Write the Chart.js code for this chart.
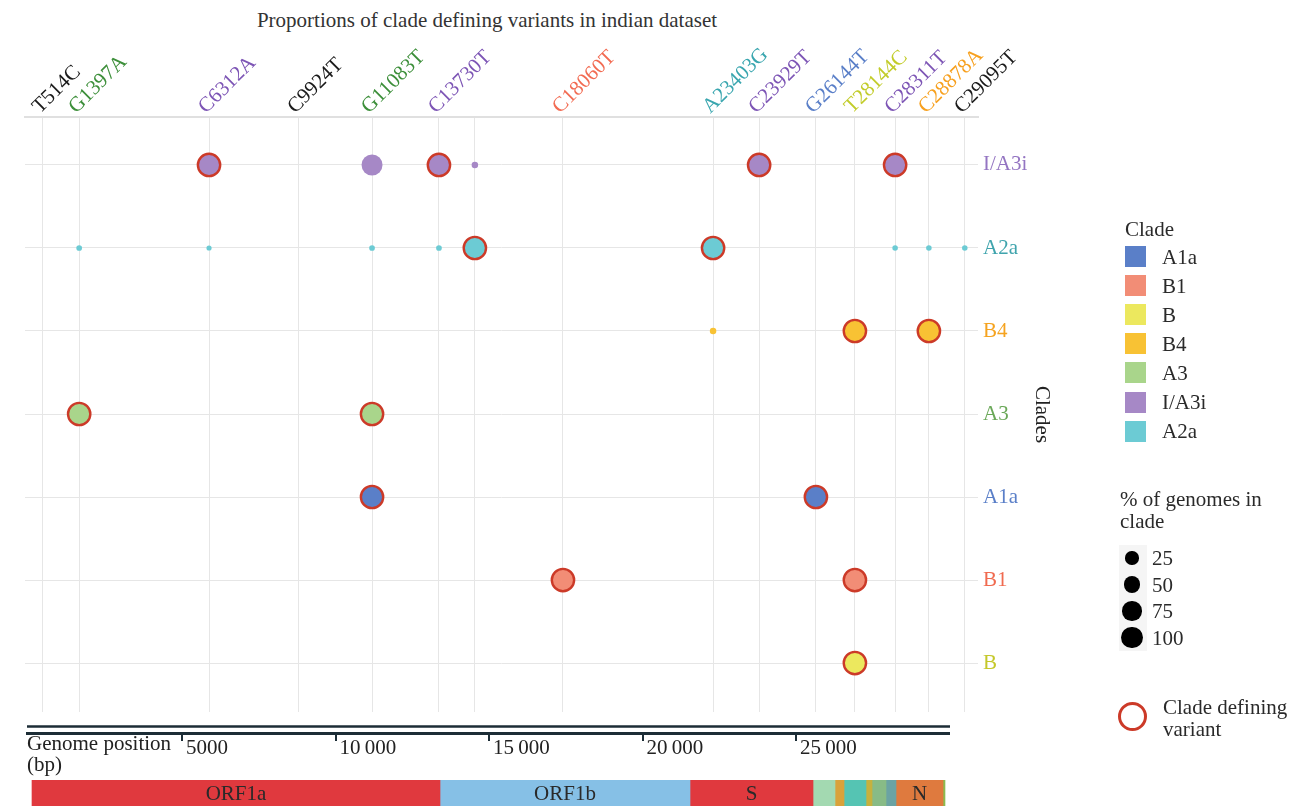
<!DOCTYPE html>
<html>
<head>
<meta charset="utf-8">
<script src="https://cdn.jsdelivr.net/npm/chart.js@4.4.1/dist/chart.umd.min.js"></script>
<style>
  html, body { margin: 0; padding: 0; background: #fff; width: 1301px; height: 807px; overflow: hidden;
    font-family: "Liberation Serif", "DejaVu Serif", serif; color: #2a2a2a; }
  .abs { position: absolute; }
  #title { left: 0; top: 8px; width: 974px; text-align: center; font-size: 21px; line-height: 24px; color: #333; }
  .lg-text { position: absolute; font-size: 21px; line-height: 24px; white-space: nowrap; color: #2a2a2a; }
  .swatch { position: absolute; width: 21px; height: 21px; }
  .dot { position: absolute; border-radius: 50%; background: #000; }
</style>
</head>
<body>
<div id="title" class="abs">Proportions of clade defining variants in indian dataset</div>
<div class="abs" style="left:0;top:0;width:1065px;height:712px"><canvas id="dots"></canvas></div>
<div class="abs" style="left:0;top:700px;width:950px;height:80px"><canvas id="axis"></canvas></div>
<div class="abs" style="left:0;top:780px;width:950px;height:26px"><canvas id="genes"></canvas></div>
<div id="legend" class="abs" style="left:0;top:0;width:1301px;height:807px;pointer-events:none"></div>

<script>
// ---------------- DATA ----------------
const variants = ['T514C','G1397A','C6312A','C9924T','G11083T','C13730T','C14408T','C18060T',
                  'A23403G','C23929T','G26144T','T28144C','C28311T','C28878A','C29095T'];
// column position of each variant on the panel's x-axis (genome-axis units)
const variantAxisPos = [470, 1650, 5880, 8780, 11190, 13370, 14540, 17410,
                        22300, 23800, 25650, 26920, 28230, 29330, 30500];
const unlabeledVariants = ['C14408T'];

const clades = ['I/A3i','A2a','B4','A3','A1a','B1','B'];

// % of genomes in clade carrying each variant (null = not shown)
const pctIA3i = [null, null, 99, null, 93, 99, 1, null, null, 99, null, null, 99, null, null];
const pctA2a  = [null, 0.3, 0.05, null, 0.3, 0.3, 99, null, 99, null, null, null, 0.2, 0.2, 0.2];
const pctB4   = [null, null, null, null, null, null, null, null, 1, null, null, 99, null, 99, null];
const pctA3   = [null, 99, null, null, 99, null, null, null, null, null, null, null, null, null, null];
const pctA1a  = [null, null, null, null, 99, null, null, null, null, null, 99, null, null, null, null];
const pctB1   = [null, null, null, null, null, null, null, 99, null, null, null, 99, null, null, null];
const pctB    = [null, null, null, null, null, null, null, null, null, null, null, 99, null, null, null];

const definingIA3i = ['C6312A','C13730T','C23929T','C28311T'];
const definingA2a  = ['C14408T','A23403G'];
const definingB4   = ['T28144C','C28878A'];
const definingA3   = ['G1397A','G11083T'];
const definingA1a  = ['G11083T','G26144T'];
const definingB1   = ['C18060T','T28144C'];
const definingB    = ['T28144C'];

const cladePct = [pctIA3i, pctA2a, pctB4, pctA3, pctA1a, pctB1, pctB];
const cladeDefining = [definingIA3i, definingA2a, definingB4, definingA3, definingA1a, definingB1, definingB];

const legendCladeOrder = ['A1a','B1','B','B4','A3','I/A3i','A2a'];
const sizeLegendValues = [25, 50, 75, 100];

const genomeTickValues = [5000, 10000, 15000, 20000, 25000];
const genomeTickLabels = ['5000', '10\u2009000', '15\u2009000', '20\u2009000', '25\u2009000'];

const genes      = ['ORF1a','ORF1b','S','ORF3a','E','M','ORF6','ORF7a','ORF8','N','ORF10'];
const geneStarts = [114, 13404, 21547, 25554, 26270, 26564, 27280, 27476, 27932, 28257, 29788];
const geneEnds   = [13404, 21547, 25554, 26270, 26564, 27280, 27476, 27932, 28257, 29788, 29853];
const labeledGenes = ['ORF1a','ORF1b','S','N'];

// ---------------- STYLES ----------------
const FONT = '"Liberation Serif", "DejaVu Serif", serif';
const cladeColors = { 'A1a':'#5a7fc8', 'B1':'#f28d76', 'B':'#ece85e', 'B4':'#f8c234',
                      'A3':'#a9d58b', 'I/A3i':'#a688c6', 'A2a':'#6ccbd4' };
const cladeLabelColors = ['#9475c2', '#3fa4ad', '#f5a31f', '#6aa858', '#5a7fc8', '#f06a4f', '#c5c82a'];
const variantLabelColors = ['#1a1a1a','#3d8f3a','#7d55b5','#1a1a1a','#3d8f3a','#7d55b5','#7d55b5','#f26b52',
                            '#3aa6af','#7d55b5','#5a7fc8','#c2cc2a','#7d55b5','#f7a01e','#1a1a1a'];
const geneColors = ['#e0393e','#86c0e6','#e0393e','#a3d9b1','#d9a23a','#55c4b3','#c6b13e',
                    '#88bb86','#6ba3a3','#df7a3e','#8bbb4f'];
const RING = '#cc3a28';
const sizeToRadius = p => 2.4 + 0.84 * Math.sqrt(p);

// ---------------- DOT PANEL ----------------
const dotDatasets = clades.map((c, ci) => ({
  label: c,
  data: variants.map((v, vi) => cladePct[ci][vi] == null ? null :
        { x: variantAxisPos[vi], y: ci, p: cladePct[ci][vi], def: cladeDefining[ci].includes(v) })
        .filter(d => d !== null),
  pointBackgroundColor: cladeColors[c],
  pointBorderColor: RING,
  pointRadius: ctx => ctx.raw ? sizeToRadius(ctx.raw.p) + (ctx.raw.def ? 0.4 : 0) : 0,
  pointBorderWidth: ctx => (ctx.raw && ctx.raw.def) ? 2.4 : 0,
  showLine: false
}));

new Chart(document.getElementById('dots'), {
  type: 'scatter',
  data: { datasets: dotDatasets },
  options: {
    responsive: true, maintainAspectRatio: false, animation: false, devicePixelRatio: 1, events: [],
    layout: { autoPadding: false, padding: { left: 25, right: 0, top: 0, bottom: 0 } },
    plugins: { legend: { display: false }, tooltip: { enabled: false } },
    scales: {
      x: {
        type: 'linear', position: 'top', min: -115, max: 30930,
        afterBuildTicks: s => { s.ticks = variantAxisPos.map(v => ({ value: v })); },
        afterFit: s => { s.height = 117; s.paddingLeft = 0; s.paddingRight = 0; },
        grid: { color: '#e6e6e6', lineWidth: 1, drawTicks: false },
        border: { display: true, color: '#e0e0e0', width: 2 },
        ticks: {
          autoSkip: false, maxRotation: 45, minRotation: 45, padding: -2, labelOffset: 11,
          font: { family: FONT, size: 21 },
          color: ctx => variantLabelColors[ctx.index],
          callback: (val, i) => unlabeledVariants.includes(variants[i]) ? '' : variants[i]
        }
      },
      y: {
        type: 'linear', position: 'right', reverse: true, min: -0.578, max: 6.59,
        afterBuildTicks: s => { s.ticks = clades.map((_, i) => ({ value: i })); },
        afterFit: s => { s.width = 87; s.paddingTop = 0; s.paddingBottom = 0; },
        grid: { color: '#e6e6e6', lineWidth: 1, drawTicks: false },
        border: { display: false },
        ticks: {
          padding: 5, font: { family: FONT, size: 21 },
          color: ctx => cladeLabelColors[ctx.index],
          callback: (val, i) => clades[i]
        },
        title: { display: true, text: 'Clades', color: '#222', font: { family: FONT, size: 21 },
                 padding: { top: 11, bottom: 0 } }
      }
    }
  }
});

// ---------------- GENOME AXIS ----------------
const genomeMin = -49, genomeMax = 30016;
const doubleRule = {
  id: 'doubleRule',
  afterDraw(chart) {
    const s = chart.scales.x, ctx = chart.ctx;
    ctx.save();
    ctx.strokeStyle = '#1c2d36';
    ctx.lineWidth = 2.5;
    ctx.beginPath();
    ctx.moveTo(s.left, s.top - 6.5);
    ctx.lineTo(s.right, s.top - 6.5);
    ctx.stroke();
    ctx.restore();
  }
};
new Chart(document.getElementById('axis'), {
  type: 'scatter',
  data: { datasets: [{ data: [] }] },
  options: {
    responsive: true, maintainAspectRatio: false, animation: false, devicePixelRatio: 1, events: [],
    layout: { autoPadding: false, padding: { left: 27, right: 0, top: 0, bottom: 0 } },
    plugins: { legend: { display: false }, tooltip: { enabled: false } },
    scales: {
      x: {
        type: 'linear', position: 'bottom', min: genomeMin, max: genomeMax,
        afterBuildTicks: s => { s.ticks = genomeTickValues.map(v => ({ value: v })); },
        afterFit: s => { s.height = 47; s.paddingLeft = 0; s.paddingRight = 0; },
        grid: { drawOnChartArea: false, drawTicks: true, tickLength: 8, color: '#1c2d36', lineWidth: 2 },
        border: { display: true, color: '#1c2d36', width: 3 },
        ticks: {
          align: 'start', padding: -5, labelOffset: 4, autoSkip: false, maxRotation: 0, minRotation: 0,
          font: { family: FONT, size: 21 }, color: '#222',
          callback: (val, i) => genomeTickLabels[i]
        },
        title: { display: true, align: 'start', text: ['Genome position', '(bp)'], color: '#222',
                 font: { family: FONT, size: 21, lineHeight: 1.0 }, padding: { top: 0, bottom: 4 } }
      },
      y: { display: false }
    }
  },
  plugins: [doubleRule]
});

// ---------------- GENOME BAR ----------------
const geneLabelPlugin = {
  id: 'geneLabels',
  afterDatasetsDraw(chart) {
    const ctx = chart.ctx;
    ctx.save();
    ctx.font = '21px ' + FONT;
    ctx.fillStyle = '#2a2a2a';
    ctx.textAlign = 'center';
    ctx.textBaseline = 'middle';
    chart.data.datasets.forEach((ds, i) => {
      if (!labeledGenes.includes(ds.label)) return;
      const el = chart.getDatasetMeta(i).data[0];
      ctx.fillText(ds.label, (el.x + el.base) / 2, el.y + 1);
    });
    ctx.restore();
  }
};
new Chart(document.getElementById('genes'), {
  type: 'bar',
  data: {
    labels: ['genome'],
    datasets: genes.map((g, i) => ({
      label: g, data: [[geneStarts[i], geneEnds[i]]], backgroundColor: geneColors[i],
      borderWidth: 0, grouped: false, barPercentage: 1, categoryPercentage: 1
    }))
  },
  options: {
    indexAxis: 'y', responsive: true, maintainAspectRatio: false, animation: false, devicePixelRatio: 1, events: [],
    layout: { autoPadding: false, padding: { left: 27, right: 0, top: 0, bottom: 0 } },
    plugins: { legend: { display: false }, tooltip: { enabled: false } },
    scales: {
      x: { type: 'linear', min: genomeMin, max: genomeMax, display: false },
      y: { display: false }
    }
  },
  plugins: [geneLabelPlugin]
});

// ---------------- LEGENDS (HTML) ----------------
const lg = document.getElementById('legend');
function addText(txt, left, centerY) {
  const d = document.createElement('div');
  d.className = 'lg-text';
  d.textContent = txt;
  d.style.left = left + 'px';
  d.style.top = (centerY - 12) + 'px';
  lg.appendChild(d);
}
addText('Clade', 1125, 229);
legendCladeOrder.forEach((c, i) => {
  const cy = 256.5 + i * 29.1;
  const s = document.createElement('div');
  s.className = 'swatch';
  s.style.left = '1125px';
  s.style.top = (cy - 10.5) + 'px';
  s.style.background = cladeColors[c];
  lg.appendChild(s);
  addText(c, 1162, cy);
});
addText('% of genomes in', 1120, 499);
addText('clade', 1120, 521);
const keyBg = document.createElement('div');
keyBg.style.cssText = 'position:absolute;left:1119px;top:545px;width:28px;height:106px;background:#f5f5f5';
lg.appendChild(keyBg);
sizeLegendValues.forEach((v, i) => {
  const cy = 558 + i * 26.5;
  const r = sizeToRadius(v);
  const d = document.createElement('div');
  d.className = 'dot';
  d.style.left = (1132 - r) + 'px';
  d.style.top = (cy - r) + 'px';
  d.style.width = (2 * r) + 'px';
  d.style.height = (2 * r) + 'px';
  lg.appendChild(d);
  addText(String(v), 1152, cy);
});
const ring = document.createElement('div');
ring.style.cssText = 'position:absolute;left:1118px;top:702px;width:23px;height:23px;border-radius:50%;border:3.5px solid ' + RING + ';background:#fff';
lg.appendChild(ring);
addText('Clade defining', 1163, 707);
addText('variant', 1163, 729);
</script>
</body>
</html>
